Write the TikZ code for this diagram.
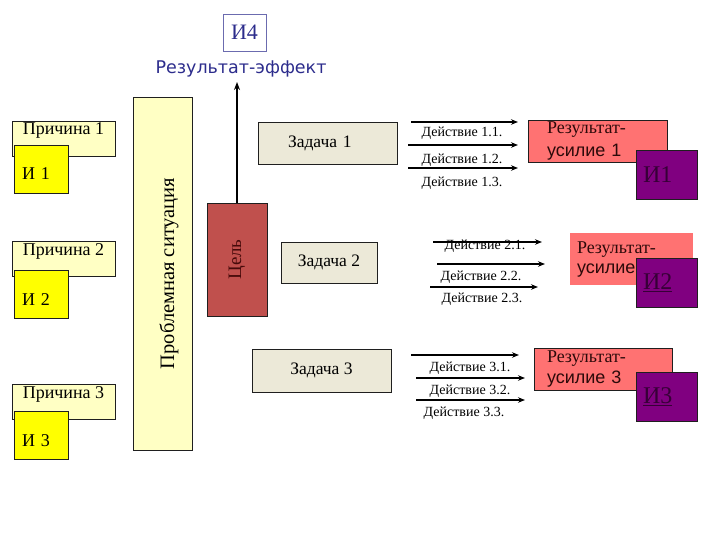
\documentclass[tikz,border=0pt]{standalone}
\usepackage{fontspec}
\setmainfont{Liberation Serif}
\setsansfont{Liberation Sans}
\newfontfamily\effectfont{DejaVu Sans}
\usetikzlibrary{arrows.meta,positioning}
\definecolor{CausePaper}{RGB}{255,255,196}
\definecolor{CauseMark}{RGB}{255,255,0}
\definecolor{TaskPaper}{RGB}{236,233,216}
\definecolor{GoalFill}{RGB}{192,80,77}
\definecolor{GoalInk}{RGB}{70,10,10}
\definecolor{ResultFill}{RGB}{255,114,114}
\definecolor{ResultInk}{RGB}{45,10,10}
\definecolor{MarkFill}{RGB}{128,0,128}
\definecolor{MarkInk}{RGB}{55,0,55}
\definecolor{EffectInk}{RGB}{44,44,140}
\definecolor{FrameInk}{gray}{0.12}
\tikzset{
    plan/diagram/.style={
        x=1pt, y=-1pt,
        line join=miter,
        >=Stealth,
        every node/.style={inner sep=0pt, outer sep=0pt}
    },
    plan/frame/.style={draw=FrameInk, line width=0.9pt},
    plan/cause/.style={
        plan/frame, fill=CausePaper, anchor=north west,
        minimum width=103pt, text height=14pt, text depth=21pt,
        font=\fontsize{18}{20}\selectfont
    },
    plan/mark/.style={
        plan/frame, fill=CauseMark, anchor=north west,
        text width=38pt, inner xsep=8pt, align=left,
        text height=35pt, text depth=13pt, font=\fontsize{18}{20}\selectfont
    },
    plan/task/.style={
        plan/frame, fill=TaskPaper, anchor=north west,
        font=\fontsize{17.5}{20}\selectfont
    },
    plan/result/.style={
        plan/frame, fill=ResultFill, anchor=north west, align=left,
        text=ResultInk, font=\fontsize{18}{23}\selectfont
    },
    plan/outcome/.style={
        plan/frame, fill=MarkFill, anchor=north west,
        minimum width=61pt, minimum height=49pt,
        text width=47pt, inner xsep=7pt, align=left,
        text=MarkInk, font=\fontsize{24}{26}\selectfont
    },
    plan/action/.style={
        draw=black, -{Stealth[length=7pt, width=5.5pt]}
    },
    plan/actlabel/.style={font=\fontsize{14}{16}\selectfont},
    plan/rise/.style={
        draw=black, line width=2pt, -{Stealth[length=8pt, width=6pt]}
    }
}
\begin{document}
\begin{tikzpicture}[plan/diagram]
    \useasboundingbox (0,0) rectangle (720,540);
    % top: effect
    \node[draw=EffectInk!70, line width=0.7pt, minimum width=43pt,
        minimum height=37pt, text=EffectInk,
        font=\fontsize{22}{24}\selectfont] (i4) at (244.5,32.5) {И4};
    \node[text=EffectInk, font=\effectfont\fontsize{17.5}{20}\selectfont]
        (effect) at (241,69) {Результат-эффект};
    \coordinate (effecttip) at (237,82);
    % causes
    \node[plan/cause] (cause1) at (12,121) {Причина 1};
    \node[plan/mark] (mark1) at (14,145) {И 1};
    \node[plan/cause] (cause2) at (12,241) {Причина 2};
    \node[plan/mark] (mark2) at (14,270) {И 2};
    \node[plan/cause] (cause3) at (12,384) {Причина 3};
    \node[plan/mark] (mark3) at (14,411) {И 3};
    % problem and goal
    \node[plan/frame, fill=CausePaper, rotate=90, minimum width=353pt,
        minimum height=59pt, text height=30pt, text depth=7pt,
        font=\fontsize{20.5}{22}\selectfont]
        (problem) at (162.5,273.5) {Проблемная ситуация};
    \node[plan/frame, fill=GoalFill, rotate=90, minimum width=113pt,
        minimum height=60pt, text=GoalInk, font=\fontsize{19}{20}\selectfont]
        (goal) at (237,259.5) {Цель};
    \draw[plan/rise] (goal.east) -- (effecttip);
    % tasks
    \node[plan/task, minimum height=42pt, text width=79pt, inner xsep=30pt]
        (task1) at (258,122) {Задача 1};
    \node[plan/task, minimum width=96pt, minimum height=41pt]
        (task2) at (281,242) {Задача 2};
    \node[plan/task, minimum width=139pt, minimum height=43pt]
        (task3) at (252,349) {Задача 3};
    % actions
    \foreach \n/\y/\xa/\xb/\w in {11/122/411/518/1.1, 12/145/408/518/2.2,
        13/168/408/518/2.2, 21/242/433/542/1.1, 22/264/437/545/1.1,
        23/287/430/538/2.2, 31/355/411/519/2.2, 32/378/416/525/2.2,
        33/400/416/525/1.1} {
        \coordinate (act\n-s) at (\xa,\y);
        \coordinate (act\n-e) at (\xb,\y);
        \draw[plan/action, line width=\w pt] (act\n-s) -- (act\n-e);
    }
    \foreach \n/\x/\y/\lab in {11/462/133/{1.1.}, 12/462/160/{1.2.},
        13/462/183/{1.3.}, 21/485/246/{2.1.}, 22/481/277/{2.2.},
        23/482/299/{2.3.}, 31/470/368/{3.1.}, 32/470/391/{3.2.},
        33/464/413/{3.3.}}
        \node[plan/actlabel] (lab\n) at (\x,\y) {Действие \lab};
    % results
    \node[plan/result, minimum height=42pt, text width=101pt, inner xsep=19pt]
        (result1) at (528,120) {{\rmfamily Результат-}\\{\sffamily усилие 1}};
    \node[plan/result, draw=none, minimum height=52pt, text width=109pt,
        inner xsep=7pt, font=\fontsize{18}{20}\selectfont]
        (result2) at (570,233) {{\rmfamily Результат-}\\{\sffamily усилие}};
    \node[plan/result, minimum height=42pt, text width=112pt, inner xsep=13pt,
        font=\fontsize{18}{21}\selectfont]
        (result3) at (534,348) {{\rmfamily Результат-}\\{\sffamily усилие 3}};
    \node[plan/outcome] (out1) at (636,150) {И1};
    \node[plan/outcome] (out2) at (636,258) {\underline{И2}};
    \node[plan/outcome] (out3) at (636,372) {\underline{И3}};
\end{tikzpicture}
\end{document}
